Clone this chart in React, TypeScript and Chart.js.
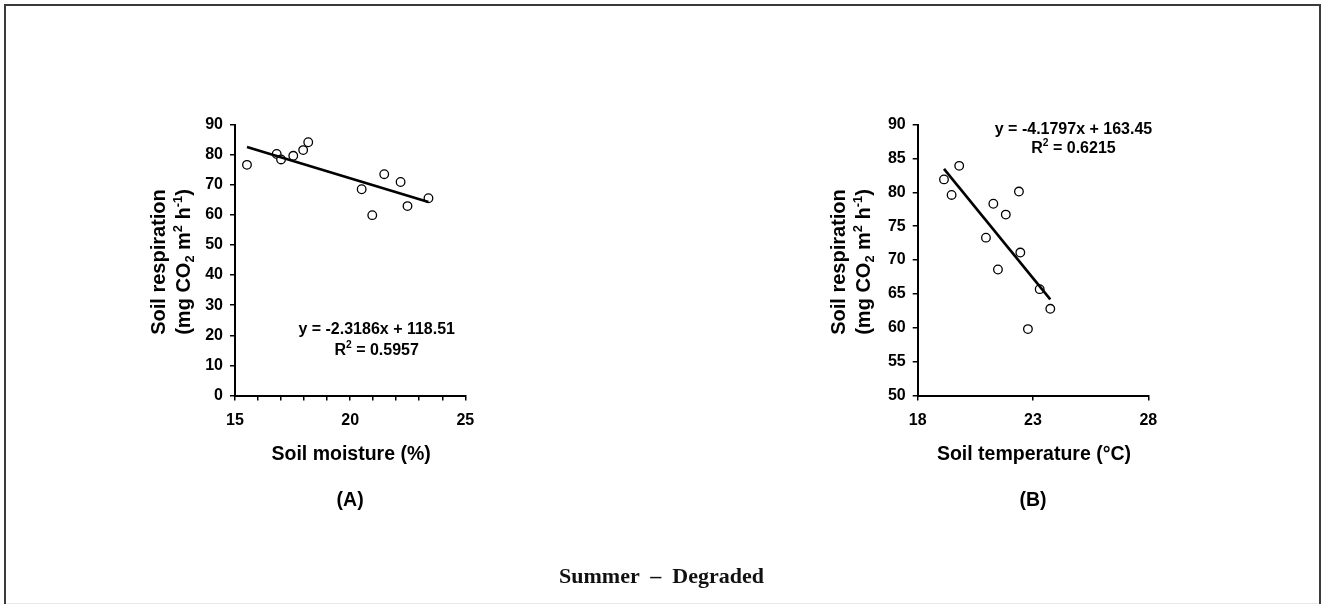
import React, { useEffect, useRef } from "react";
import { Chart, registerables } from "chart.js";

Chart.register(...registerables);

// ---- Data ----
const moisture = [15.52, 16.81, 17.0, 17.53, 17.96, 18.18, 20.5, 20.96, 21.48, 22.19, 22.49, 23.4];
const respirationA = [76.6, 80.2, 78.4, 79.6, 81.5, 84.1, 68.5, 59.9, 73.5, 70.9, 62.9, 65.5];
const trendAX = [15.52, 23.4];
const trendAY = [82.52, 64.26];

const temperature = [19.14, 19.47, 19.8, 20.96, 21.28, 21.48, 21.82, 22.39, 22.45, 22.78, 23.29, 23.75];
const respirationB = [81.9, 79.6, 83.9, 73.3, 78.3, 68.6, 76.7, 80.1, 71.1, 59.8, 65.7, 62.8];
const trendBX = [19.14, 23.75];
const trendBY = [83.45, 64.18];

const xTicksA = [15, 16, 17, 18, 19, 20, 21, 22, 23, 24, 25];
const xLabelsA = [15, 20, 25];
const yTicksA = [0, 10, 20, 30, 40, 50, 60, 70, 80, 90];

const xTicksB = [18, 23, 28];
const xLabelsB = [18, 23, 28];
const yTicksB = [50, 55, 60, 65, 70, 75, 80, 85, 90];

const eqA = "y = -2.3186x + 118.51";
const r2A = "0.5957";
const eqB = "y = -4.1797x + 163.45";
const r2B = "0.6215";

const FONT = '"Liberation Sans", Arial, Helvetica, sans-serif';

type Seg = { t: string; s?: "sup" | "sub" };

function drawRich(
  ctx: CanvasRenderingContext2D,
  segs: Seg[],
  cx: number,
  cy: number,
  size: number,
  rotate: boolean
) {
  ctx.save();
  ctx.translate(cx, cy);
  if (rotate) ctx.rotate(-Math.PI / 2);
  const base = `bold ${size}px ${FONT}`;
  const small = `bold ${size * 0.64}px ${FONT}`;
  let total = 0;
  const widths = segs.map((sg) => {
    ctx.font = sg.s ? small : base;
    const w = ctx.measureText(sg.t).width;
    total += w;
    return w;
  });
  let x = -total / 2;
  ctx.textAlign = "left";
  ctx.textBaseline = "alphabetic";
  ctx.fillStyle = "#000";
  const baseY = size * 0.358;
  segs.forEach((sg, i) => {
    ctx.font = sg.s ? small : base;
    let y = baseY;
    if (sg.s === "sup") y -= size * 0.4;
    if (sg.s === "sub") y += size * 0.2;
    ctx.fillText(sg.t, x, y);
    x += widths[i];
  });
  ctx.restore();
}

const yTitle2: Seg[] = [
  { t: "(mg CO" },
  { t: "2", s: "sub" },
  { t: " m" },
  { t: "2", s: "sup" },
  { t: " h" },
  { t: "-1", s: "sup" },
  { t: ")" },
];

type Params = {
  xs: number[];
  ys: number[];
  tx: number[];
  ty: number[];
  xMin: number;
  xMax: number;
  yMin: number;
  yMax: number;
  xTicks: number[];
  xLabels: number[];
  yTicks: number[];
  padding: { left: number; right: number; top: number; bottom: number };
  xTitle: string;
  panel: string;
  eq: string;
  r2: string;
  eqPos: { dx: number; y1: number; y2: number };
  yTitleOffsets: [number, number];
};

function buildConfig(p: Params): any {
  const tickFont = { family: FONT, size: 16, weight: "bold" as const };
  const textPlugin = {
    id: "texts",
    afterDraw(chart: any) {
      const ctx: CanvasRenderingContext2D = chart.ctx;
      const a = chart.chartArea;
      const cx = (a.left + a.right) / 2;
      const cy = (a.top + a.bottom) / 2 + 2;
      drawRich(ctx, [{ t: p.xTitle }], cx + 1, a.bottom + 57.5, 19.5, false);
      drawRich(ctx, [{ t: p.panel }], cx, a.bottom + 103.5, 19.5, false);
      drawRich(ctx, [{ t: "Soil respiration" }], a.left + p.yTitleOffsets[0], cy, 20, true);
      drawRich(ctx, yTitle2, a.left + p.yTitleOffsets[1], cy, 20, true);
      drawRich(ctx, [{ t: p.eq }], a.left + p.eqPos.dx, p.eqPos.y1, 16, false);
      drawRich(
        ctx,
        [{ t: "R" }, { t: "2", s: "sup" }, { t: " = " + p.r2 }],
        a.left + p.eqPos.dx,
        p.eqPos.y2,
        16,
        false
      );
    },
  };
  return {
    type: "scatter",
    data: {
      datasets: [
        {
          type: "line",
          data: p.tx.map((x, i) => ({ x, y: p.ty[i] })),
          borderColor: "#000",
          borderWidth: 2.6,
          pointRadius: 0,
          fill: false,
        },
        {
          data: p.xs.map((x, i) => ({ x, y: p.ys[i] })),
          pointRadius: 4.3,
          pointBorderWidth: 1.3,
          pointBackgroundColor: "#fff",
          pointBorderColor: "#000",
          showLine: false,
        },
      ],
    },
    options: {
      responsive: false,
      animation: false,
      devicePixelRatio: 1,
      layout: { padding: p.padding },
      plugins: { legend: { display: false }, tooltip: { enabled: false } },
      events: [],
      scales: {
        x: {
          type: "linear",
          min: p.xMin,
          max: p.xMax,
          afterFit: (s: any) => {
            s.height = 40;
          },
          afterBuildTicks: (s: any) => {
            s.ticks = p.xTicks.map((v) => ({ value: v }));
          },
          ticks: {
            autoSkip: false,
            maxRotation: 0,
            padding: 10,
            color: "#000",
            font: tickFont,
            callback: (v: any) => (p.xLabels.includes(Number(v)) ? String(v) : ""),
          },
          grid: {
            drawOnChartArea: false,
            drawTicks: true,
            tickLength: 5,
            color: "#000",
            lineWidth: 1.5,
          },
          border: { display: true, color: "#000", width: 2 },
        },
        y: {
          type: "linear",
          min: p.yMin,
          max: p.yMax,
          afterFit: (s: any) => {
            s.width = 60;
          },
          afterBuildTicks: (s: any) => {
            s.ticks = p.yTicks.map((v) => ({ value: v }));
          },
          ticks: {
            autoSkip: false,
            padding: 7,
            color: "#000",
            font: tickFont,
          },
          grid: {
            drawOnChartArea: false,
            drawTicks: true,
            tickLength: 5,
            color: "#000",
            lineWidth: 1.5,
          },
          border: { display: true, color: "#000", width: 2 },
        },
      },
    },
    plugins: [textPlugin],
  };
}

export default function App() {
  const leftRef = useRef<HTMLCanvasElement>(null);
  const rightRef = useRef<HTMLCanvasElement>(null);

  useEffect(() => {
    const c1 = new Chart(
      leftRef.current as HTMLCanvasElement,
      buildConfig({
        xs: moisture,
        ys: respirationA,
        tx: trendAX,
        ty: trendAY,
        xMin: 15,
        xMax: 25,
        yMin: 0,
        yMax: 90,
        xTicks: xTicksA,
        xLabels: xLabelsA,
        yTicks: yTicksA,
        padding: { left: 175, right: 195.7, top: 124.5, bottom: 168.5 },
        xTitle: "Soil moisture (%)",
        panel: "(A)",
        eq: eqA,
        r2: r2A,
        eqPos: { dx: 141.7, y1: 328, y2: 349 },
        yTitleOffsets: [-76.7, -51.7],
      })
    );
    const c2 = new Chart(
      rightRef.current as HTMLCanvasElement,
      buildConfig({
        xs: temperature,
        ys: respirationB,
        tx: trendBX,
        ty: trendBY,
        xMin: 18,
        xMax: 28,
        yMin: 50,
        yMax: 90,
        xTicks: xTicksB,
        xLabels: xLabelsB,
        yTicks: yTicksB,
        padding: { left: 196.7, right: 173.7, top: 124.5, bottom: 168.5 },
        xTitle: "Soil temperature (\u00B0C)",
        panel: "(B)",
        eq: eqB,
        r2: r2B,
        eqPos: { dx: 155.8, y1: 128.3, y2: 147 },
        yTitleOffsets: [-79.4, -54.4],
      })
    );
    return () => {
      c1.destroy();
      c2.destroy();
    };
  }, []);

  return (
    <div
      style={{
        position: "fixed",
        left: 0,
        top: 0,
        width: 1322,
        height: 604,
        background: "#fff",
        overflow: "hidden",
      }}
    >
      <div
        style={{
          position: "absolute",
          left: 4,
          top: 4,
          width: 1317,
          height: 660,
          border: "2px solid #3a3a3a",
          boxSizing: "border-box",
        }}
      />
      <div
        style={{
          position: "absolute",
          left: 6,
          top: 603,
          width: 1312,
          height: 1,
          background: "#e8e8e8",
        }}
      />
      <canvas
        ref={leftRef}
        width={661}
        height={604}
        style={{ position: "absolute", left: 0, top: 0, width: 661, height: 604 }}
      />
      <canvas
        ref={rightRef}
        width={661}
        height={604}
        style={{ position: "absolute", left: 661, top: 0, width: 661, height: 604 }}
      />
      <div
        style={{
          position: "absolute",
          left: 0,
          width: 1323,
          top: 563,
          height: 28,
          lineHeight: "28px",
          textAlign: "center",
          whiteSpace: "pre",
          font: 'bold 22px "Liberation Serif", "Times New Roman", serif',
          color: "#111",
        }}
      >
        {"Summer  \u2013  Degraded"}
      </div>
    </div>
  );
}
